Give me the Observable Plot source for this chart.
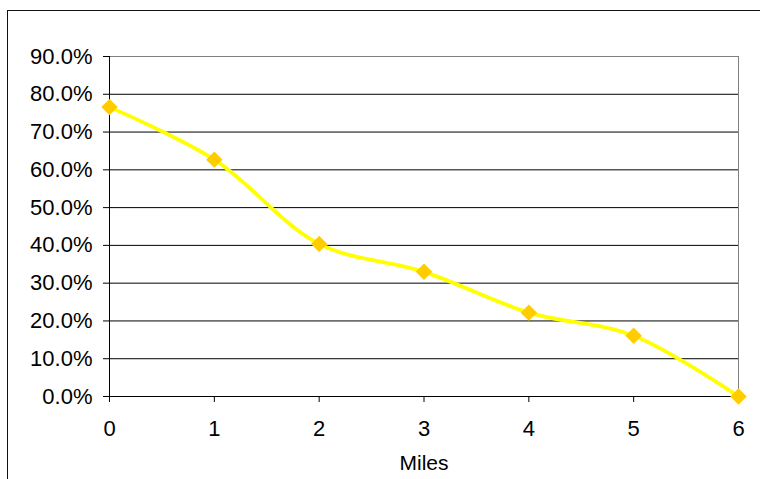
<!DOCTYPE html>
<html>
<head>
<meta charset="utf-8">
<script src="https://cdn.jsdelivr.net/npm/d3@7"></script>
<script src="https://cdn.jsdelivr.net/npm/@observablehq/plot@0.6"></script>
<style>
  html, body { margin: 0; padding: 0; background: #fff; overflow: hidden; }
  #wrap { position: relative; width: 760px; height: 479px; }
  #frame { position: absolute; left: 7px; top: 10px; width: 800px; height: 500px;
           border-left: 1.5px solid #111; border-top: 1.5px solid #111; pointer-events: none; }
</style>
</head>
<body>
<div id="wrap"><div id="frame"></div></div>
<script>
const miles = [0, 1, 2, 3, 4, 5, 6];
const shares = [0.766, 0.627, 0.404, 0.330, 0.222, 0.161, 0.0];
const yTicks = [0, 0.1, 0.2, 0.3, 0.4, 0.5, 0.6, 0.7, 0.8, 0.9];
const xTicks = [0, 1, 2, 3, 4, 5, 6];
const xLabel = ["Miles"];

const data = miles.map((m, i) => ({miles: m, share: shares[i]}));

const chart = Plot.plot({
  width: 760,
  height: 479,
  marginLeft: 109,
  marginRight: 22,
  marginTop: 56,
  marginBottom: 83,
  style: {fontFamily: "'Liberation Sans', Arial, sans-serif", fontSize: "22px", color: "#000", background: "transparent"},
  x: {domain: [0, 6]},
  y: {domain: [0, 0.9]},
  marks: [
    Plot.ruleY(yTicks, {stroke: d => d === 0.9 ? "#808080" : "#000", strokeWidth: 1}),
    Plot.ruleX([6], {stroke: "#808080"}),
    Plot.ruleX([0], {stroke: "#000"}),
    Plot.axisY({ticks: yTicks, tickSize: 6, tickPadding: 11, tickFormat: d3.format(".1%"), label: null, stroke: "#000"}),
    Plot.axisX({ticks: xTicks, tickSize: 6, tickPadding: 18, tickFormat: d => String(d), label: null, stroke: "#000"}),
    Plot.text(xLabel, {text: d => d, frameAnchor: "bottom", dy: 73, fontSize: 21, fill: "#000"}),
    Plot.line(data, {x: "miles", y: "share", stroke: "#FFFF00", strokeWidth: 3.8, curve: "catmull-rom"}),
    Plot.dot(data, {x: "miles", y: "share", symbol: "diamond2", r: 7.4, fill: "#FFCC00", stroke: "none"})
  ]
});
document.getElementById("wrap").prepend(chart);
</script>
</body>
</html>
